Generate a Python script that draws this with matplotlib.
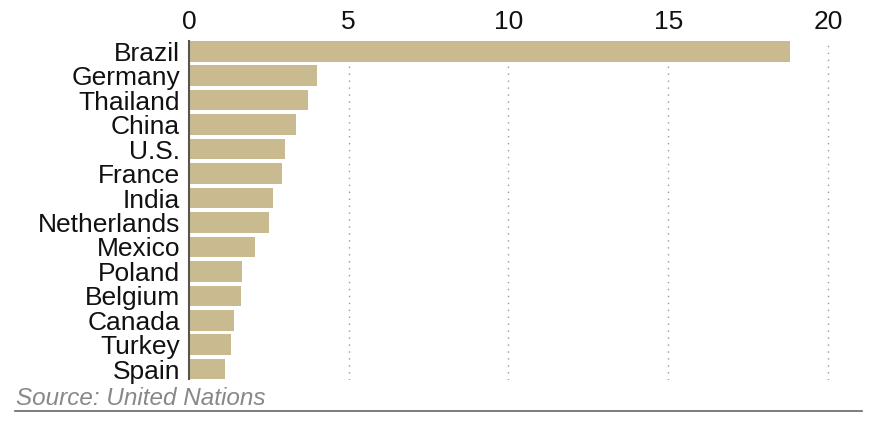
import matplotlib.pyplot as plt
from matplotlib.lines import Line2D

plt.rcParams['font.family'] = ['Liberation Sans', 'DejaVu Sans']

# Data
countries = ["Brazil", "Germany", "Thailand", "China", "U.S.", "France", "India",
             "Netherlands", "Mexico", "Poland", "Belgium", "Canada", "Turkey", "Spain"]
values = [18.83, 4.01, 3.72, 3.35, 3.01, 2.91, 2.63,
          2.50, 2.06, 1.66, 1.63, 1.41, 1.30, 1.13]
ticks = [0, 5, 10, 15, 20]

W, H = 880, 423
fig = plt.figure(figsize=(W / 100, H / 100), dpi=100)

# axes placed in pixel terms
left, right, top, bottom = 189, 847, 41, 379.5
ax = fig.add_axes([left / W, 1 - bottom / H, (right - left) / W, (bottom - top) / H])

ypos = list(range(len(countries)))
ax.barh(ypos, values, height=0.84, color="#c9ba8f", zorder=2)

ax.set_xlim(0, 20.6)
ax.set_ylim(len(countries) - 0.58, -0.42)

ax.set_xticks(ticks)
ax.set_xticklabels([str(t) for t in ticks], fontsize=19, color="#111111")
ax.xaxis.tick_top()
ax.tick_params(axis="x", length=0, pad=5)
ax.set_yticks(ypos)
ax.set_yticklabels(countries, fontsize=19, color="#111111")
ax.tick_params(axis="y", length=0, pad=6.5)

for t in ticks[1:]:
    ax.axvline(t, color="#999999", linestyle=(0, (1, 4)), linewidth=1, zorder=1)

for s in ["top", "right", "bottom"]:
    ax.spines[s].set_visible(False)
ax.spines["left"].set_color("#555555")
ax.spines["left"].set_linewidth(1.5)
ax.spines["left"].set_zorder(3)

# Source note and rule
fig.text(16 / W, 1 - 398 / H, "Source: United Nations", fontsize=17.5, style="italic",
         color="#888888", va="center", ha="left")
fig.add_artist(Line2D([15 / W, 862 / W], [1 - 411 / H, 1 - 411 / H],
                      color="#666666", linewidth=1.2, transform=fig.transFigure))

fig.savefig("out.png", dpi=100)
